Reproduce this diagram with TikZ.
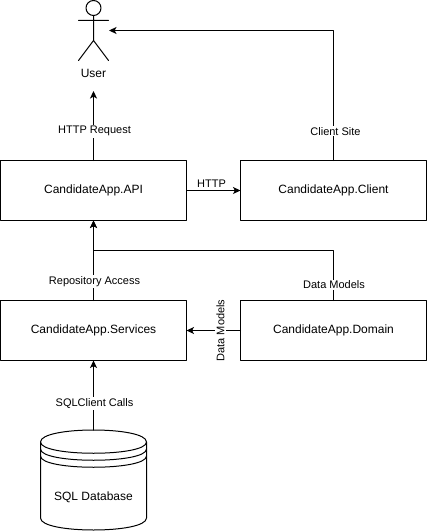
\documentclass[tikz,border=0pt]{standalone}
\usepackage{fontspec}
\setmainfont{Liberation Sans}
\usetikzlibrary{arrows.meta}
\tikzset{
    appbox/.style={draw=black, line width=0.75pt, minimum width=139.5pt, minimum height=45pt, inner sep=0pt, outer sep=0pt, font=\fontsize{9}{11}\selectfont},
    link/.style={draw=black, line width=0.75pt, -{Stealth[length=5.6pt, width=5.2pt, inset=1.4pt]}},
    linklabel/.style={fill=white, inner xsep=1pt, inner ysep=1pt, font=\fontsize{8.25}{10}\selectfont}
}
\begin{document}
\begin{tikzpicture}[line cap=round, line join=round, x=0.75pt, y=-0.75pt]
    \useasboundingbox (0, 0) rectangle (427, 531);
    \coordinate (userfoot) at (93.5, 91);
    \coordinate (userside) at (109, 30.5);
    % boxes
    \foreach \name/\x/\y/\txt in {api/93.5/190.5/CandidateApp.API, client/333.5/190.5/CandidateApp.Client, services/93.5/330.5/CandidateApp.Services, domain/333.5/330.5/CandidateApp.Domain}
        \node[appbox] (\name) at (\x, \y) {\txt};
    % user
    \draw[line width=0.75pt] (93.5, 8) circle (7.5);
    \draw[line width=0.75pt] (93.5, 15.5) -- (93.5, 40.5) (78.5, 20.5) -- (108.5, 20.5) (78.5, 60.5) -- (93.5, 40.5) -- (108.5, 60.5);
    \node[font=\fontsize{9}{11}\selectfont] (user) at (93.5, 73.5) {User};
    % database
    \draw[line width=0.75pt] (40.5, 442) .. controls (40.5, 426) and (146.5, 426) .. (146.5, 442) -- (146.5, 518) .. controls (146.5, 534) and (40.5, 534) .. (40.5, 518) -- cycle;
    \foreach \y in {442, 449, 456}
        \draw[line width=0.75pt] (40.5, \y) .. controls (40.5, \y+15) and (146.5, \y+15) .. (146.5, \y);
    \node[font=\fontsize{9}{11}\selectfont] (database) at (93.5, 497) {SQL Database};
    \coordinate (databasetop) at (93.5, 430);
    % links
    \draw[link] (api.north) -- node[linklabel, pos=0.42, xshift=0.75pt] {HTTP Request} (userfoot);
    \draw[link] (client.north) |- node[linklabel, pos=0.113, xshift=1.5pt] {Client Site} (userside);
    \draw[link] (api.east) -- node[font=\fontsize{8.25}{10}\selectfont, above=0pt, inner sep=1.5pt, xshift=-1.5pt, yshift=0.75pt] {HTTP} (client.west);
    \draw[link] (services.north) -- node[linklabel, pos=0.24, xshift=0.75pt] {Repository Access} (api.south);
    \draw[link] (domain.north) -- node[linklabel, pos=0.31, xshift=0.4pt] {Data Models} ++(0, -50) -| (api.south);
    \draw[link] (domain.west) -- node[linklabel, pos=0.37, rotate=90] {Data Models} (services.east);
    \draw[link] (databasetop) -- node[linklabel, pos=0.38, xshift=0.75pt] {SQLClient Calls} (services.south);
\end{tikzpicture}
\end{document}
